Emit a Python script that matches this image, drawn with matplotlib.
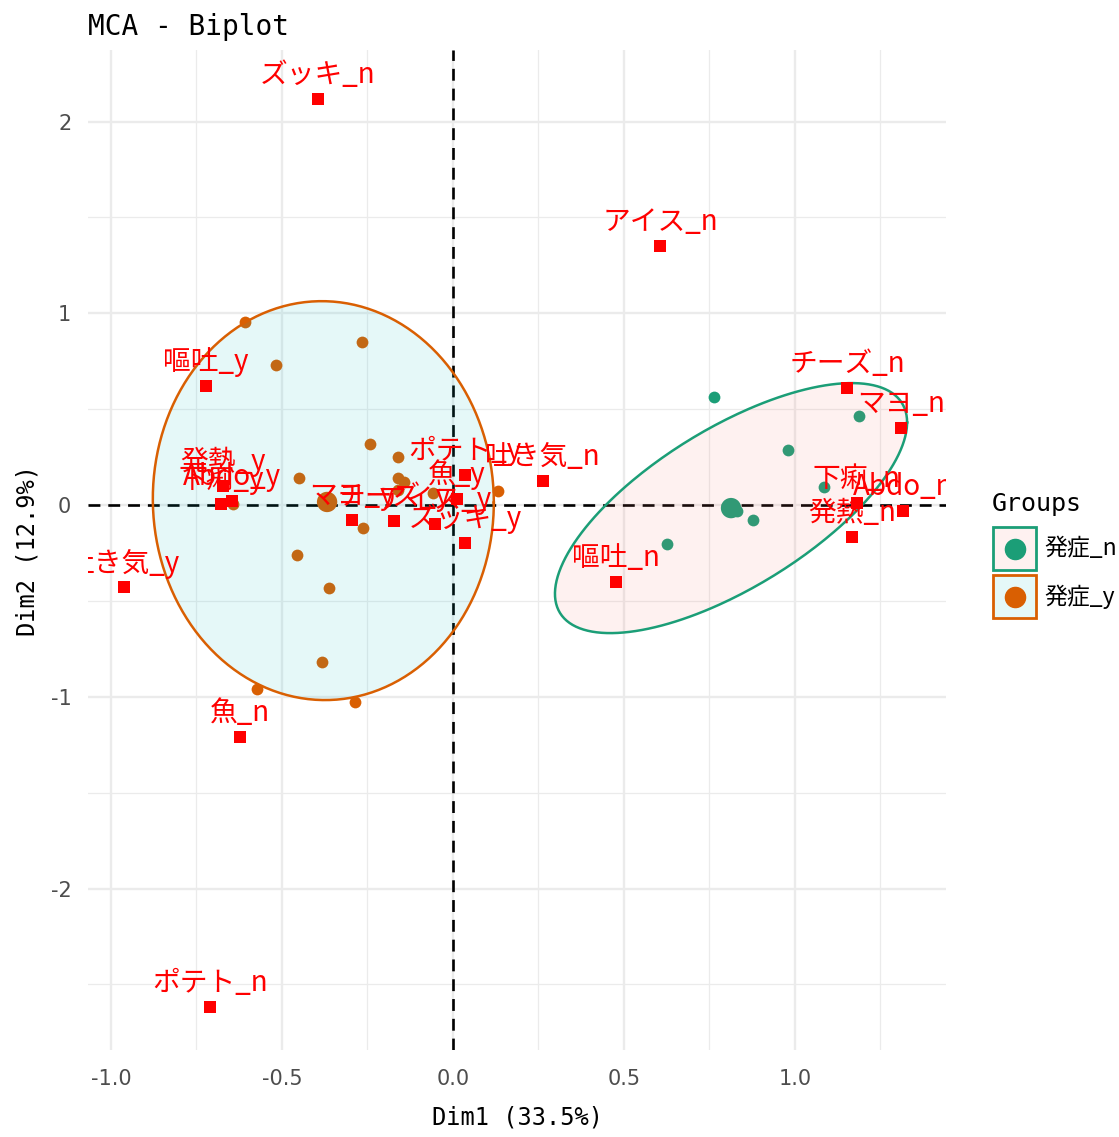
import numpy as np
import matplotlib
matplotlib.use("Agg")
import matplotlib.pyplot as plt
from matplotlib.patches import Rectangle
from matplotlib.lines import Line2D
from matplotlib.legend_handler import HandlerTuple, HandlerLine2D
from matplotlib.colors import to_rgba

# ---------------- data ----------------
var_labels = ['発熱_y', '下痢_y', 'Abdo_y', '嘔吐_y', '吐き気_y', 'ズッキ_y', 'アイス_y',
              'チーズ_y', 'マヨ_y', '魚_y', 'ポテト_y',
              '発熱_n', '下痢_n', 'Abdo_n', '嘔吐_n', '吐き気_n', 'ズッキ_n', 'アイス_n',
              'チーズ_n', 'マヨ_n', '魚_n', 'ポテト_n']
var_dim1 = [-0.673, -0.678, -0.646, -0.722, -0.962, 0.035, -0.053,
            -0.172, -0.295, 0.012, 0.035,
            1.167, 1.181, 1.316, 0.477, 0.263, -0.395, 0.605,
            1.152, 1.310, -0.623, -0.711]
var_dim2 = [0.100, 0.005, 0.020, 0.620, -0.430, -0.200, -0.100,
            -0.085, -0.080, 0.030, 0.156,
            -0.167, 0.010, -0.030, -0.400, 0.125, 2.120, 1.350,
            0.610, 0.400, -1.210, -2.620]

groups = ['発症_n', '発症_y']
group_colors = ['#1B9E77', '#D95F02']
ellipse_fill = ['#F8766D', '#00BFC4']

ind_n_dim1 = [0.763, 1.187, 0.980, 1.085, 0.877, 0.626, 0.830]
ind_n_dim2 = [0.563, 0.464, 0.287, 0.094, -0.078, -0.203, -0.031]
ind_y_dim1 = [-0.608, -0.266, -0.518, -0.243, -0.161, -0.450, -0.161, -0.143, -0.161,
              -0.058, 0.132, -0.263, -0.643, -0.456, -0.363, -0.383, -0.573, -0.287]
ind_y_dim2 = [0.954, 0.850, 0.730, 0.318, 0.250, 0.141, 0.141, 0.120, 0.078,
              0.063, 0.073, -0.120, 0.005, -0.261, -0.433, -0.819, -0.960, -1.027]

mean_dim1 = [0.813, -0.368]
mean_dim2 = [-0.016, 0.016]

# ellipse: centre and shape matrix (var_x, cov_xy, var_y)
ell_center = [(0.813, -0.016), (-0.379, 0.023)]
ell_shape = [(0.265, 0.230, 0.425), (0.2485, -0.005, 1.082)]

x_ticks = [-1.0, -0.5, 0.0, 0.5, 1.0]
y_ticks = [-2, -1, 0, 1, 2]
x_label = 'Dim1 (33.5%)'
y_label = 'Dim2 (12.9%)'
title = 'MCA - Biplot'
legend_title = 'Groups'


class CenteredLine(HandlerLine2D):
    """Place the legend marker at the vertical centre of the key box."""
    def create_artists(self, legend, orig_handle, xdescent, ydescent,
                       width, height, fontsize, trans):
        arts = super().create_artists(legend, orig_handle, xdescent, ydescent,
                                      width, height, fontsize, trans)
        for a in arts:
            a.set_ydata(np.full_like(np.asarray(a.get_ydata(), float),
                                     height / 2 - ydescent))
        return arts


# ---------------- figure ----------------
W, H = 1119, 1137
fig = plt.figure(figsize=(W / 100, H / 100), dpi=100)
L, R, T, B = 88, 946, 50, 1050
ax = fig.add_axes([L / W, 1 - B / H, (R - L) / W, (B - T) / H])

ax.set_xlim(-1.067, 1.4415)
ax.set_ylim(-2.842, 2.373)

for s in ax.spines.values():
    s.set_visible(False)

ax.set_xticks(x_ticks)
ax.set_xticklabels([f'{v:.1f}' for v in x_ticks])
ax.set_yticks(y_ticks)
ax.set_yticklabels([str(v) for v in y_ticks])
ax.set_xticks([-0.75, -0.25, 0.25, 0.75, 1.25], minor=True)
ax.set_yticks([-2.5, -1.5, -0.5, 0.5, 1.5], minor=True)
ax.tick_params(which='both', length=0)
ax.tick_params(axis='x', pad=14, labelsize=15, labelcolor='#4D4D4D')
ax.tick_params(axis='y', pad=12, labelsize=15, labelcolor='#4D4D4D')
ax.grid(which='major', color='#EBEBEB', lw=1.7, zorder=0)
ax.grid(which='minor', color='#EBEBEB', lw=0.9, zorder=0)
ax.set_axisbelow(True)

# reference lines
ax.axhline(0, color='black', lw=1.9, dashes=(4.5, 3.0), zorder=1)
ax.axvline(0, color='black', lw=1.9, dashes=(4.5, 3.0), zorder=1)

# individuals
ax.scatter(ind_n_dim1, ind_n_dim2, s=72, color=group_colors[0], lw=0, zorder=2)
ax.scatter(ind_y_dim1, ind_y_dim2, s=72, color=group_colors[1], lw=0, zorder=2)
ax.scatter(mean_dim1, mean_dim2, s=215, color=group_colors, lw=0, zorder=2)

# ellipses
t = np.linspace(0, 2 * np.pi, 300)
for (cx, cy), (vx, cxy, vy), ec, fc in zip(ell_center, ell_shape, group_colors, ellipse_fill):
    S = np.array([[vx, cxy], [cxy, vy]])
    Lc = np.linalg.cholesky(S)
    pts = Lc @ np.vstack([np.cos(t), np.sin(t)])
    ex, ey = pts[0] + cx, pts[1] + cy
    ax.fill(ex, ey, color=fc, alpha=0.1, lw=0, zorder=3)
    ax.plot(ex, ey, color=ec, lw=1.8, zorder=3)

# variable categories
ax.scatter(var_dim1, var_dim2, s=74, marker='s', color='#FF0000', lw=0, zorder=4)
for lab, x, y in zip(var_labels, var_dim1, var_dim2):
    ax.annotate(lab, (x, y), xytext=(0, 11.5), textcoords='offset points',
                ha='center', va='baseline', color='#FF0000', fontsize=20,
                family=['Noto Sans CJK JP', 'DejaVu Sans'], clip_on=True, zorder=5)

# labels & title
ax.set_title(title, loc='left', pad=10.5, fontsize=20, family='DejaVu Sans Mono')
ax.set_xlabel(x_label, fontsize=17, family='DejaVu Sans Mono')
ax.set_ylabel(y_label, fontsize=17, family='DejaVu Sans Mono')
ax.xaxis.set_label_coords(0.5, (B - 1117) / (B - T))
ax.xaxis.label.set_va('center')
ax.yaxis.set_label_coords((27 - L) / (R - L), 0.5)
ax.yaxis.label.set_va('center')

# legend
handles = []
for gc, fc in zip(group_colors, ellipse_fill):
    rect = Rectangle((0, 0), 1, 1, facecolor=to_rgba(fc, 0.1), edgecolor=gc, lw=2.0)
    dot = Line2D([], [], marker='o', ls='', color=gc, markersize=14.5)
    handles.append((rect, dot))
fig.text(992 / W, 1 - 504 / H, legend_title, ha='left', va='center',
         fontsize=18, family='DejaVu Sans Mono')
leg = fig.legend(handles, groups,
                 handler_map={tuple: HandlerTuple(ndivide=1), Line2D: CenteredLine()},
                 loc='upper left', bbox_to_anchor=(993 / W, 1 - 527 / H),
                 frameon=False,
                 prop={'family': ['Noto Sans CJK JP', 'DejaVu Sans'], 'size': 16.5},
                 handlelength=1.88, handleheight=2.51, labelspacing=0.22,
                 handletextpad=0.35, borderpad=0, borderaxespad=0)

fig.savefig('out.png', dpi=100, facecolor='white')
